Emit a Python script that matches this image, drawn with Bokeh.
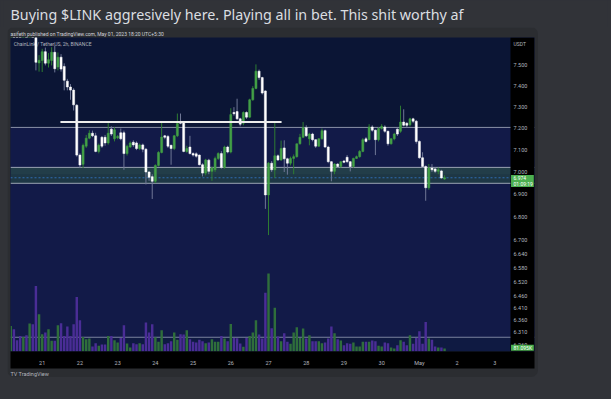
from bokeh.plotting import figure
from bokeh.models import (Range1d, LinearScale, FixedTicker, Label, Span, BoxAnnotation,
                          ColumnDataSource, Title)
from bokeh.core.properties import value
from bokeh.layouts import column
from bokeh.embed import file_html
from bokeh.resources import INLINE

# ---------------- data (2h candles, hours relative to Apr 21 00:00) ----------------
hours = list(range(-20, 258, 2))

opens = [7.72, 7.78, 7.74, 7.72, 7.69, 7.73, 7.70, 7.76,
         7.70, 7.512, 7.524, 7.567, 7.511, 7.524, 7.564, 7.492, 7.540, 7.495,
         7.424, 7.396, 7.381, 7.309, 7.077, 7.035, 7.118, 7.155, 7.178, 7.166,
         7.094, 7.159, 7.159, 7.133, 7.197, 7.152, 7.157, 7.18, 7.18, 7.084,
         7.114, 7.136, 7.133, 7.107, 7.124, 7.104, 7.0, 6.979, 6.958, 7.03,
         7.089, 7.166, 7.163, 7.122, 7.107, 7.166, 7.231, 7.231, 7.094, 7.114,
         7.084, 7.083, 7.077, 7.033, 6.995, 7.054, 7.003, 7.01, 7.062, 7.084,
         7.021, 7.114, 7.091, 7.275, 7.279, 7.245, 7.224, 7.275, 7.253, 7.335,
         7.389, 7.472, 7.441, 7.377, 6.897, 7.04, 7.01, 7.074, 7.055, 7.11,
         7.06, 7.04, 7.062, 7.07, 7.129, 7.159, 7.204, 7.152, 7.174, 7.148,
         7.118, 7.152, 7.19, 7.114, 7.047, 7.003, 7.036, 7.025, 7.05, 7.067,
         7.047, 7.025, 7.062, 7.07, 7.094, 7.152, 7.148, 7.207, 7.192, 7.148,
         7.20, 7.207, 7.187, 7.129, 7.152, 7.197, 7.187, 7.23, 7.224, 7.217,
         7.245, 7.234, 7.14, 7.065, 7.025, 6.929, 7.018, 7.014, 7.003, 7.005,
         6.968]
highs = [7.80, 7.80, 7.76, 7.74, 7.75, 7.75, 7.78, 7.77,
         7.71, 7.55, 7.581, 7.587, 7.56, 7.589, 7.597, 7.563, 7.555, 7.51,
         7.435, 7.41, 7.39, 7.315, 7.085, 7.13, 7.17, 7.192, 7.19, 7.18,
         7.13, 7.165, 7.17, 7.225, 7.21, 7.205, 7.17, 7.20, 7.19, 7.125,
         7.14, 7.145, 7.14, 7.13, 7.13, 7.11, 7.005, 6.99, 7.035, 7.095,
         7.23, 7.17, 7.17, 7.125, 7.17, 7.27, 7.27, 7.235, 7.12, 7.166,
         7.09, 7.09, 7.08, 7.04, 7.06, 7.06, 7.025, 7.07, 7.09, 7.095,
         7.12, 7.12, 7.295, 7.30, 7.34, 7.25, 7.28, 7.28, 7.34, 7.40,
         7.505, 7.48, 7.445, 7.38, 7.045, 7.05, 7.227, 7.08, 7.144, 7.145,
         7.065, 7.07, 7.08, 7.13, 7.175, 7.23, 7.215, 7.18, 7.18, 7.15,
         7.155, 7.20, 7.195, 7.12, 7.05, 7.04, 7.04, 7.05, 7.055, 7.077,
         7.05, 7.065, 7.075, 7.10, 7.155, 7.16, 7.22, 7.215, 7.195, 7.205,
         7.22, 7.215, 7.19, 7.155, 7.18, 7.20, 7.307, 7.29, 7.23, 7.25,
         7.25, 7.24, 7.145, 7.09, 7.03, 7.036, 7.036, 7.02, 7.02, 7.01,
         6.985]
lows = [7.70, 7.72, 7.70, 7.67, 7.68, 7.69, 7.69, 7.68,
        7.476, 7.47, 7.468, 7.50, 7.49, 7.50, 7.466, 7.476, 7.47, 7.38,
        7.38, 7.335, 7.284, 7.07, 7.018, 7.018, 7.11, 7.15, 7.16, 7.09,
        7.085, 7.11, 7.12, 7.125, 7.165, 7.14, 7.15, 7.145, 7.01, 7.075,
        7.11, 7.115, 7.10, 7.10, 7.09, 6.944, 6.96, 6.879, 6.95, 7.025,
        7.085, 7.15, 7.11, 7.033, 7.10, 7.16, 7.22, 7.09, 7.088, 7.08,
        7.07, 7.065, 7.03, 6.98, 6.985, 6.99, 6.96, 7.0, 7.055, 7.015,
        7.015, 7.085, 7.085, 7.26, 7.24, 7.21, 7.215, 7.245, 7.25, 7.33,
        7.385, 7.43, 7.36, 6.835, 6.72, 7.0, 6.973, 7.05, 7.05, 7.0,
        6.988, 7.03, 6.99, 7.065, 7.125, 7.155, 7.16, 7.122, 7.14, 7.11,
        7.115, 7.148, 7.11, 7.04, 6.958, 6.99, 7.02, 7.02, 7.04, 7.04,
        7.003, 7.02, 7.06, 7.065, 7.09, 7.135, 7.145, 7.185, 7.077, 7.14,
        7.195, 7.18, 7.12, 7.125, 7.145, 7.165, 7.18, 7.21, 7.205, 7.21,
        7.225, 7.13, 7.06, 7.02, 6.871, 6.92, 7.0, 6.995, 6.99, 6.97,
        6.965]
closes = [7.78, 7.74, 7.72, 7.69, 7.73, 7.70, 7.76, 7.70,
          7.515, 7.525, 7.567, 7.511, 7.528, 7.564, 7.484, 7.540, 7.482, 7.428,
          7.396, 7.381, 7.311, 7.077, 7.032, 7.122, 7.155, 7.178, 7.166, 7.094,
          7.122, 7.118, 7.133, 7.178, 7.174, 7.194, 7.163, 7.152, 7.084, 7.118,
          7.133, 7.124, 7.107, 7.124, 7.104, 7.0, 6.976, 6.958, 7.03, 7.089,
          7.16, 7.159, 7.118, 7.107, 7.166, 7.223, 7.224, 7.094, 7.107, 7.084,
          7.077, 7.072, 7.033, 6.995, 7.055, 7.003, 7.018, 7.062, 7.084, 7.021,
          7.114, 7.091, 7.265, 7.269, 7.245, 7.22, 7.275, 7.253, 7.335, 7.389,
          7.472, 7.441, 7.367, 6.897, 7.04, 7.01, 7.074, 7.055, 7.107, 7.06,
          7.04, 7.062, 7.07, 7.129, 7.159, 7.204, 7.166, 7.174, 7.148, 7.118,
          7.152, 7.19, 7.114, 7.047, 7.003, 7.036, 7.025, 7.047, 7.044, 7.047,
          7.025, 7.062, 7.07, 7.094, 7.148, 7.14, 7.207, 7.192, 7.148, 7.20,
          7.21, 7.187, 7.129, 7.152, 7.174, 7.174, 7.23, 7.215, 7.215, 7.245,
          7.234, 7.14, 7.065, 7.025, 6.929, 7.018, 7.01, 7.003, 7.01, 6.973,
          6.974]
volumes_k = [693, 603, 306, 423, 396, 441, 756, 738,
             1773, 1008, 468, 513, 603, 288, 288, 711, 765, 423,
             675, 423, 738, 1476, 846, 396, 333, 351, 135, 225,
             153, 189, 189, 423, 423, 306, 243, 369, 711, 216,
             108, 225, 198, 225, 198, 783, 513, 738, 387, 261,
             576, 198, 225, 279, 513, 315, 468, 459, 576, 333,
             261, 243, 315, 279, 225, 243, 333, 261, 261, 423,
             351, 279, 747, 369, 360, 216, 126, 369, 423, 513,
             846, 459, 351, 1593, 2115, 630, 1188, 405, 279, 495,
             261, 207, 513, 657, 369, 621, 351, 441, 279, 279,
             279, 225, 243, 351, 675, 495, 333, 297, 171, 225,
             207, 243, 135, 135, 261, 261, 261, 297, 279, 153,
             135, 243, 225, 108, 81, 171, 306, 261, 171, 441,
             207, 369, 549, 207, 801, 351, 315, 135, 108, 108,
             81]

price_ticks = [7.5, 7.4, 7.3, 7.2, 7.1, 7.0, 6.9, 6.8, 6.7, 6.64, 6.58, 6.52, 6.46, 6.41, 6.36, 6.31, 6.26]
price_tick_labels = ["7.500", "7.400", "7.300", "7.200", "7.100", "7.000", "6.900", "6.800", "6.700",
                     "6.640", "6.580", "6.520", "6.460", "6.410", "6.360", "6.310", "6.260"]
day_ticks = [0, 24, 48, 72, 96, 120, 144, 168, 192, 216, 240, 264, 288]
day_labels = ["21", "22", "23", "24", "25", "26", "27", "28", "29", "30", "May", "2", "3"]

# drawings on the chart
zone_top, zone_bottom = 7.205, 6.29
box_top, box_bottom = 7.021, 6.949
last_price, last_price_text, countdown_text = 6.974, "6.974", "01:09:19"
last_volume_text = "81.095K"
support_level, support_start, support_end = 7.23, 11.6, 152.3

# ---------------- layout constants (hours / prices at pixel edges) ----------------
X_START, X_END = -20.17, 313.23          # frame spans page x 10 .. 534
SCALE_LEFT = 297.96                      # price scale begins at page x 510
SCALE_TEXT_X = 299.9
TAG_LEFT, TAG_RIGHT = 298.3, 312.8
Y_LOW, Y_HIGH = 6.2323, 7.6367           # frame spans page y 352 .. 37
PRICE_TAG = (6.986, 6.932)
VOL_TAG = (6.2597, 6.2356)
HEADER_Y = 7.6064

# ---------------- colours ----------------
PAGE_BG = "#313338"
CARD_BG = "#2b2d31"
TXT = "#b2b5be"
BULL, BEAR = "#43a047", "#ffffff"
BULL_WICK, BEAR_WICK = "#2e7d32", "#6f7796"
VOL_UP, VOL_DN = "#2f6e3b", "#4a2d96"
TAG = "#4caf50"

up = [c >= o for o, c in zip(opens, closes)]
src = ColumnDataSource(dict(
    t=hours, o=opens, h=highs, l=lows, c=closes,
    top=[max(o, c) for o, c in zip(opens, closes)],
    bot=[min(o, c) for o, c in zip(opens, closes)],
    body=[BULL if u else BEAR for u in up],
    wick=[BULL_WICK if u else BEAR_WICK for u in up],
    vol=volumes_k,
    vcol=[VOL_UP if u else VOL_DN for u in up],
))

# ---------------- header (message text) ----------------
hdr = figure(width=611, height=27, toolbar_location=None, output_backend="svg",
             x_range=Range1d(0, 1), y_range=Range1d(0, 1),
             x_axis_location=None, y_axis_location=None, min_border=0,
             background_fill_color=PAGE_BG, border_fill_color=PAGE_BG, outline_line_color=None)
hdr.grid.visible = False
hdr.add_layout(Label(x=7, y=13, x_units="screen", y_units="screen",
                     text="Buying $LINK aggresively here. Playing all in bet. This shit worthy af",
                     text_font="Noto Sans", text_font_size="14.3px", text_color="#dbdee1",
                     text_baseline="middle"))

# ---------------- chart ----------------
p = figure(width=531, height=350, y_axis_type="log",
           x_range=Range1d(X_START, X_END), y_range=Range1d(Y_LOW, Y_HIGH),
           y_axis_location=None, toolbar_location=None, output_backend="svg",
           min_border_left=3, min_border_right=4, min_border_top=10, min_border_bottom=25,
           background_fill_color="#0b1535", border_fill_color=CARD_BG, outline_line_color=None)
p.margin = (0, 73, 22, 7)
p.styles = {"border-radius": "7px", "overflow": "hidden"}
p.grid.visible = False
p.extra_y_ranges = {"vol": Range1d(0, 8505)}
p.extra_y_scales = {"vol": LinearScale()}

p.title = Title(text="asifeth published on TradingView.com, May 01, 2023 18:20 UTC+5:30",
                align="left", text_font="Roboto", text_font_size="5px", text_font_style="normal",
                text_color="#d1d4dc", standoff=1)
p.add_layout(Title(text="TV  TradingView", align="left", text_font="Roboto", text_font_size="5.5px",
                   text_font_style="normal", text_color=TXT, standoff=1), "below")

p.add_layout(BoxAnnotation(top=zone_top, bottom=zone_bottom, fill_color="#121a48", fill_alpha=1,
                           line_color=None, level="underlay"))
p.add_layout(BoxAnnotation(top=zone_bottom, fill_color="#0f1a42", fill_alpha=1,
                           line_color=None, level="underlay"))
p.add_layout(BoxAnnotation(top=box_top, bottom=box_bottom, fill_color="#223d49", fill_alpha=1,
                           line_color=None, level="underlay"))
p.add_layout(BoxAnnotation(top=6.99, bottom=box_bottom, fill_color="#1c3343", fill_alpha=0.6,
                           line_color=None, level="underlay"))
for lv, col in [(zone_top, "#8a90a8"), (zone_bottom, "#7b82a0"), (box_top, "#9aa3b2"), (box_bottom, "#9aa3b2")]:
    p.add_layout(Span(location=lv, dimension="width", line_color=col, line_width=1, level="underlay"))
p.add_layout(Span(location=last_price, dimension="width", line_color="#2f6db0", line_width=1,
                  line_dash="2 2", level="underlay"))
# price scale panel (black strip on the right)
p.add_layout(BoxAnnotation(left=SCALE_LEFT, fill_color="#000000", fill_alpha=1,
                           line_color=None, level="underlay"))
p.add_layout(Label(x=3.3, y=HEADER_Y, x_units="screen", text="ChainLink / TetherUS, 2h, BINANCE",
                   text_font="Roboto", text_font_size="5px", text_color=TXT, text_baseline="middle",
                   level="underlay"))

p.vbar(x="t", width=1.55, top="vol", bottom=0, y_range_name="vol", fill_color="vcol",
       line_color=None, source=src)
p.segment("t", "h", "t", "l", color="wick", line_width=1, source=src)
p.vbar(x="t", width=1.3, top="top", bottom="bot", fill_color="body", line_color="body",
       line_width=0.5, source=src)
p.segment(x0=support_start, y0=support_level, x1=support_end, y1=support_level,
          line_color="#ececec", line_width=2)

# price scale texts
p.text(x=[SCALE_TEXT_X] * len(price_ticks), y=price_ticks, text=price_tick_labels,
       text_font=value("Roboto"), text_font_size="5.5px", text_color=TXT, text_baseline="middle")
p.text(x=[SCALE_TEXT_X], y=[HEADER_Y], text=["USDT"], text_font=value("Roboto"),
       text_font_size="5px", text_color=TXT, text_baseline="middle")
p.quad(left=[TAG_LEFT], right=[TAG_RIGHT], top=[PRICE_TAG[0]], bottom=[PRICE_TAG[1]],
       fill_color=TAG, line_color=None)
p.text(x=[SCALE_TEXT_X, SCALE_TEXT_X], y=[last_price, 6.9475], text=[last_price_text, countdown_text],
       text_font=value("Roboto"), text_font_size="5px", text_color="#ffffff", text_baseline="middle")
p.quad(left=[TAG_LEFT], right=[TAG_RIGHT], top=[VOL_TAG[0]], bottom=[VOL_TAG[1]],
       fill_color=TAG, line_color=None)
p.text(x=[SCALE_TEXT_X], y=[6.2476], text=[last_volume_text], text_font=value("Roboto"),
       text_font_size="5px", text_color="#ffffff", text_baseline="middle")

# time axis
xa = p.xaxis[0]
xa.ticker = FixedTicker(ticks=day_ticks)
xa.major_label_overrides = {t: s for t, s in zip(day_ticks, day_labels)}
xa.axis_line_color = None
xa.major_tick_line_color = None
xa.minor_tick_line_color = None
xa.major_label_text_font = "Roboto"
xa.major_label_text_font_size = "5.5px"
xa.major_label_text_color = TXT
xa.major_label_standoff = 2
xa.background_fill_color = "#000000"

root = column(hdr, p, spacing=0, styles={"background-color": PAGE_BG})
open("out.html", "w").write(file_html(root, INLINE))
